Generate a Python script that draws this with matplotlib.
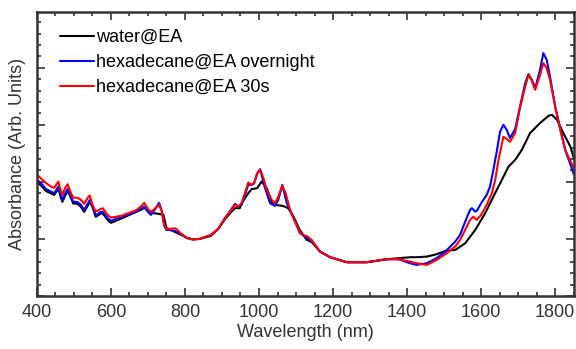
import matplotlib.pyplot as plt
from matplotlib.ticker import MultipleLocator, NullFormatter

plt.rcParams['font.family'] = ['Liberation Sans', 'DejaVu Sans']

# values; y given in pixel rows, converted to
# major-tick units (0..5) below
def to_y(py):
    return [(296 - p) / 57 for p in py]

wl_water = [400, 406, 415, 424, 438, 447, 458, 465, 469, 476, 483, 492, 498, 510, 519,
            528, 537, 543, 550, 559, 573, 578, 591, 600, 613, 632, 650, 668, 680, 690,
            700, 710, 730, 742, 750, 760, 773, 790, 805, 820, 840, 870, 890, 908, 926,
            935, 948, 953, 971, 980, 995, 1007, 1021, 1034, 1043, 1064, 1079, 1093, 1110,
            1129, 1142, 1165, 1192, 1237, 1291, 1345, 1377, 1408, 1426, 1453, 1480, 1503,
            1530, 1557, 1584, 1611, 1633, 1656, 1674, 1692, 1710, 1732, 1759, 1782, 1791,
            1805, 1822, 1841, 1850]
py_water = [182, 184, 187, 191, 193.5, 195, 188.5, 198, 202, 196, 191, 198, 203.5, 204, 207,
            212, 206, 202, 207, 217, 213.5, 213.5, 220, 223, 221, 218, 215, 212, 210, 208,
            211, 213, 214, 215, 228, 230, 232, 235, 238, 239.5, 239, 236, 229, 219.3, 211.7,
            208.3, 208.3, 203.3, 193.3, 189.3, 188.3, 181.7, 188.3, 201.7, 205, 206, 208.3, 216.7, 230,
            240, 242, 251.7, 257.3, 262.3, 262.3, 259.3, 258.3, 257.3, 257.3, 256.7, 254.3, 251,
            250, 243.3, 230, 213.3, 196.7, 180, 166.7, 160, 150, 133.3, 123.3, 116, 115,
            120, 133.3, 146.7, 158]

wl_overnight = [400, 406, 415, 424, 438, 447, 458, 465, 469, 476, 483, 492, 498, 510, 519,
                528, 537, 543, 550, 559, 570, 578, 591, 600, 613, 632, 650, 668, 680, 690,
                700, 708, 718, 730, 737, 744, 750, 760, 773, 790, 805, 820, 840, 870, 890,
                908, 926, 935, 944, 953, 962, 971, 980, 987, 995, 1003, 1015, 1030, 1043, 1052,
                1063, 1075, 1093, 1110, 1129, 1142, 1165, 1192, 1237, 1291, 1345, 1377, 1408,
                1426, 1453, 1480, 1503, 1530, 1543, 1557, 1570, 1575, 1584, 1589, 1600, 1615,
                1624, 1633, 1642, 1651, 1660, 1669, 1678, 1692, 1705, 1719, 1728, 1737, 1746,
                1758, 1768, 1777, 1786, 1800, 1814, 1827, 1850]
py_overnight = [180, 181.7, 185, 189, 191.7, 193.3, 186.7, 196, 200, 194, 189, 197, 201.7, 202.3, 205,
                210, 204, 200, 206, 215.7, 212.5, 211.7, 218.3, 221, 219, 217, 214, 212, 209, 206.7,
                212, 215, 210, 203, 210, 226, 230, 230, 231, 234, 238, 239.5, 239, 235, 229,
                218.3, 209, 204, 206.7, 205, 195, 185, 185, 183.3, 174, 169.3, 186.7, 203.3, 206, 200,
                185, 203.3, 217.7, 233, 238, 241, 251.7, 257.3, 262.3, 262.3, 259.3, 259.3, 263.3,
                265, 263.3, 258.3, 251.7, 241.7, 235, 221.7, 210, 208.3, 211.7, 210.7, 203.3, 195,
                186.7, 170, 152, 132, 125, 130, 138.3, 129, 106.7, 83.3, 74.3, 80, 88.3,
                71.7, 53.3, 60, 76.7, 106.7, 130, 150, 174]

wl_30s = [400, 406, 415, 424, 438, 447, 458, 465, 469, 476, 483, 492, 498, 510, 519,
          528, 537, 543, 550, 559, 573, 578, 591, 600, 613, 632, 645, 668, 680, 690,
          700, 708, 718, 730, 737, 744, 750, 760, 773, 778, 790, 805, 820, 840, 870,
          890, 908, 926, 935, 944, 953, 962, 971, 980, 987, 995, 1003, 1012, 1021, 1034,
          1043, 1052, 1063, 1072, 1084, 1093, 1110, 1120, 1129, 1142, 1165, 1192, 1237,
          1291, 1345, 1377, 1408, 1426, 1453, 1480, 1503, 1530, 1543, 1557, 1570, 1579,
          1588, 1600, 1615, 1629, 1638, 1647, 1660, 1669, 1678, 1692, 1705, 1719, 1728,
          1737, 1746, 1758, 1768, 1777, 1786, 1800, 1814, 1827, 1850]
py_30s = [175, 176.7, 180, 183, 186.7, 188, 181.7, 191.7, 195, 188.3, 184.3, 193, 197.7, 198, 200,
          204, 198, 195.7, 205, 211.7, 209, 208.3, 215, 217.7, 217, 215.5, 213.5, 210.5, 207, 203,
          209, 212, 209, 205, 211, 225, 229, 229, 228.3, 229.5, 234, 238, 239.5, 239, 235,
          229, 218.3, 210, 205, 206.7, 203.3, 193.3, 182.7, 185, 183.3, 173.3, 170, 178.3, 190, 200,
          203.3, 196.7, 186, 193.3, 210, 218.3, 232, 235.5, 236, 240, 251.7, 257.3, 262.3,
          262.3, 259.3, 259.3, 261.7, 263.3, 265, 260, 254.3, 246.7, 240, 230, 220, 216.7,
          220, 215, 205, 193.3, 180, 160, 137, 139, 142, 133, 108, 86.7, 75,
          81, 90, 76.7, 63.3, 68.3, 80, 106.7, 130, 150, 168]

fig = plt.figure(figsize=(5.76, 3.49), dpi=100)
ax = fig.add_axes([0.064, 0.152, 0.932, 0.814])

kw = dict(lw=1.5, solid_joinstyle='round', solid_capstyle='round')
ax.plot(wl_water, to_y(py_water), color='black', label='water@EA', **kw)
ax.plot(wl_overnight, to_y(py_overnight), color='#0000ff', label='hexadecane@EA overnight', **kw)
ax.plot(wl_30s, to_y(py_30s), color='#ff0000', label='hexadecane@EA 30s', **kw)

ax.set_xlim(400, 1850)
ax.set_ylim(0, 4.98)
ax.xaxis.set_major_locator(MultipleLocator(200))
ax.xaxis.set_minor_locator(MultipleLocator(50))
ax.yaxis.set_major_locator(MultipleLocator(1))
ax.yaxis.set_minor_locator(MultipleLocator(0.2))
ax.yaxis.set_major_formatter(NullFormatter())
ax.tick_params(which='both', direction='in', top=True, right=True, width=1.2, color='#333333')
ax.tick_params(which='major', length=6, labelsize=13, labelcolor='#333333', pad=6)
ax.tick_params(which='minor', length=3)
for s in ax.spines.values():
    s.set_linewidth(1.8)
    s.set_color('#333333')

ax.set_xlabel('Wavelength (nm)', fontsize=13, color='#333333', labelpad=2)
ax.set_ylabel('Absorbance (Arb. Units)', fontsize=13, color='#333333', labelpad=2)

ax.legend(loc='upper left', frameon=False, fontsize=13, handlelength=1.85,
          handletextpad=0.15, labelspacing=0.45, bbox_to_anchor=(0.03, 0.965),
          borderaxespad=0.0)

fig.savefig('out.png')
